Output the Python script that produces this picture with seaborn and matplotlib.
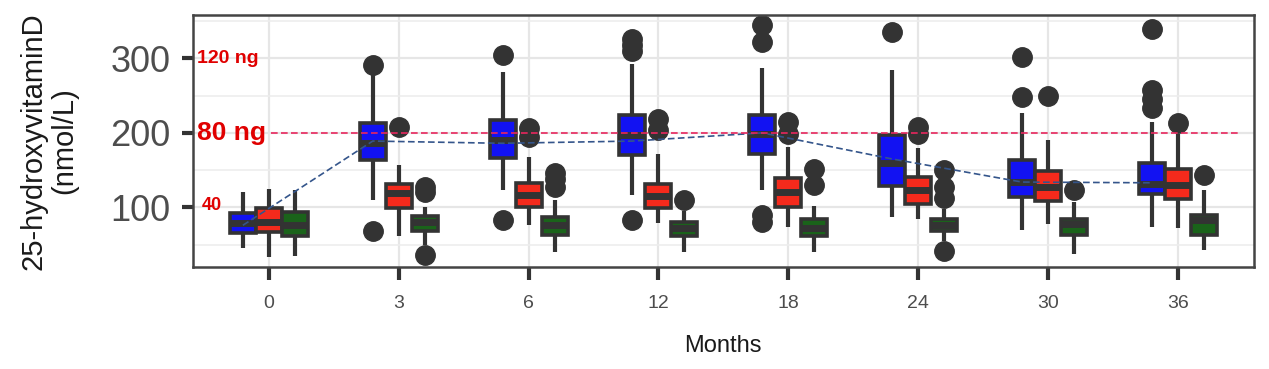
import numpy as np
import pandas as pd
import matplotlib
matplotlib.use("Agg")
import matplotlib.pyplot as plt
from matplotlib.ticker import FixedLocator
import matplotlib.transforms as mtransforms
import seaborn as sns

# Months on the x axis and the three dose groups (hue)
months = ["0", "3", "6", "12", "18", "24", "30", "36"]
groups = ["high", "mid", "low"]
colors = ["#1212f2", "#f52a1c", "#1a631a"]

# box statistics (nmol/L), one value per month
high_lo = [45, 110, 123, 117, 123, 87, 70, 74]
high_q1 = [66, 164, 166, 170, 172, 129, 114, 118]
high_med = [79, 186, 190, 197, 199, 159, 134, 132]
high_q3 = [93, 213, 217, 224, 224, 197, 164, 160]
high_hi = [121, 278, 282, 293, 287, 284, 226, 215]
high_out = [[], [68, 291], [83, 304], [83, 310, 318, 326], [80, 90, 322, 345],
            [336], [248, 302], [233, 245, 257, 340]]

mid_lo = [33, 62, 76, 79, 74, 84, 78, 72]
mid_q1 = [67, 99, 101, 99, 101, 105, 108, 111]
mid_med = [81, 119, 117, 115, 120, 123, 128, 130]
mid_q3 = [99, 132, 133, 132, 139, 141, 149, 151]
mid_hi = [125, 157, 168, 172, 181, 180, 190, 199]
mid_out = [[], [208], [195, 206], [204, 219], [199, 215], [198, 208], [249], [213]]

low_lo = [35, 50, 40, 40, 40, 55, 38, 43]
low_q1 = [61, 68, 63, 62, 61, 68, 63, 63]
low_med = [76, 80, 76, 72, 72, 76, 78, 83]
low_q3 = [94, 88, 87, 80, 84, 84, 85, 90]
low_hi = [124, 101, 110, 95, 102, 98, 107, 123]
low_out = [[], [36, 120, 127], [127, 138, 146], [110], [130, 152],
           [42, 112, 128, 150], [124], [143]]

# dashed blue trend line (high group)
high_trend = [76, 189, 186, 189, 200, 165, 134, 133]

# build a long table the boxplot can summarise
stats = {
    "high": (high_lo, high_q1, high_med, high_q3, high_hi, high_out),
    "mid": (mid_lo, mid_q1, mid_med, mid_q3, mid_hi, mid_out),
    "low": (low_lo, low_q1, low_med, low_q3, low_hi, low_out),
}
rows = []
k = 20
for g in groups:
    lo, q1, med, q3, hi, out = stats[g]
    for i, m in enumerate(months):
        vals = out[i] + [lo[i], hi[i]] + [q1[i]] * k + [med[i]] * k + [q3[i]] * k
        rows += [(m, g, v) for v in vals]
df = pd.DataFrame(rows, columns=["month", "group", "value"])

sns.set_style("white")
plt.rcParams["font.family"] = ["Liberation Sans", "DejaVu Sans"]

fig = plt.figure(figsize=(12.69, 3.69), dpi=100)
ax = fig.add_axes([0.152, 0.277, 0.836, 0.682])

dark = "#333333"
sns.boxplot(data=df, x="month", y="value", hue="group", order=months,
            hue_order=groups, palette=colors, saturation=1, width=0.6, gap=0,
            linecolor=dark, linewidth=2.6, fliersize=14, legend=False,
            showcaps=False,
            whiskerprops=dict(color=dark, linewidth=3),
            flierprops=dict(marker="o", markerfacecolor=dark,
                            markeredgecolor=dark),
            ax=ax)

# thicken the median bars (horizontal two-point lines)
for ln in ax.lines:
    xd, yd = ln.get_data()
    if len(xd) == 2 and yd[0] == yd[1] and xd[0] != xd[1]:
        ln.set_linewidth(5)
        ln.set_color(dark)

# trend line through the high-dose boxes
sns.lineplot(x=np.arange(len(months)) - 0.2, y=high_trend, ax=ax,
             color="#34558b", linewidth=1.2, linestyle=(0, (4, 2)), zorder=4)

# 80 ng reference line
ax.hlines(200, 0.02, 7.48, color="#e8265e", linewidth=1.2,
          linestyles=(0, (4, 2)), zorder=4)

trans = mtransforms.blended_transform_factory(ax.transAxes, ax.transData)
ax.text(0.004, 300, "120 ng", transform=trans, color="#e00000",
        fontsize=14, fontweight="bold", va="center", ha="left")
ax.text(0.004, 200, "80 ng", transform=trans, color="#e00000",
        fontsize=19, fontweight="bold", va="center", ha="left")
ax.text(0.008, 103, "40", transform=trans, color="#e00000",
        fontsize=13, fontweight="bold", va="center", ha="left")

ax.set_xlim(-0.585, 7.585)
ax.set_ylim(20.3, 358)
ax.set_yticks([100, 200, 300])
ax.yaxis.set_minor_locator(FixedLocator([50, 150, 250, 350]))
ax.set_axisbelow(True)
ax.grid(which="major", color="#e6e6e6", linewidth=1.6)
ax.grid(which="minor", axis="y", color="#ededed", linewidth=1.2)

ax.tick_params(axis="y", which="major", length=8, width=3, color=dark,
               labelsize=26, labelcolor="#4d4d4d", pad=8, left=True)
ax.tick_params(axis="x", which="major", length=9, width=3, color=dark,
               labelsize=14, labelcolor="#4d4d4d", pad=11, bottom=True)
ax.tick_params(which="minor", length=0)

for s in ax.spines.values():
    s.set_color("#444444")
    s.set_linewidth(1.8)

ax.set_ylabel("25-hydroxyvitaminD\n(nmol/L)", fontsize=21, color="#1a1a1a",
              linespacing=1.15)
ax.yaxis.set_label_coords(-0.108, 0.5)
ax.set_xlabel("Months", fontsize=17, color="#1a1a1a")
ax.xaxis.set_label_coords(0.5, -0.27)

fig.savefig("out.png", dpi=100)
